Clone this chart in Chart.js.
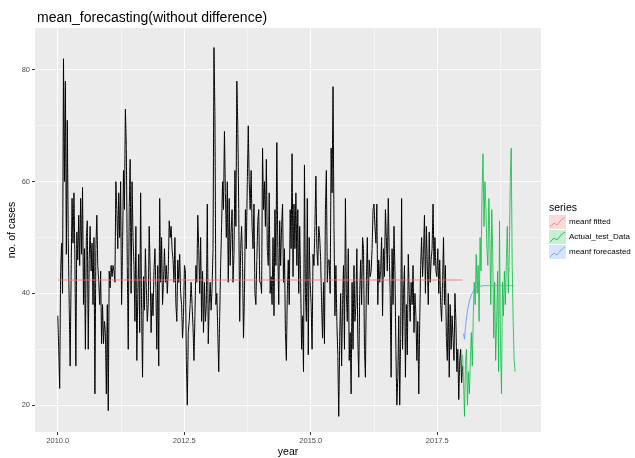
<!DOCTYPE html>
<html><head><meta charset="utf-8">
<script src="https://cdn.jsdelivr.net/npm/chart.js@4/dist/chart.umd.min.js"></script>
<style>html,body{margin:0;padding:0;background:#fff}#wrap{width:635px;height:458px}</style>
</head><body><div id="wrap"><canvas id="c" width="635" height="458"></canvas></div>
<script>
// ---------- data ----------
const chartTitle = "mean_forecasting(without difference)";
const xTitle = "year";
const yTitle = "no. of cases";
const legendTitle = "series";
const seriesNames = ["meanf fitted", "Actual_test_Data", "meanf forecasted"];

const trainStart = 2010.0, trainEnd = 2018.0;
const train2010 = [36,30,23,44,49,40,82,60,78,47,71,50,38,27,43,57,49,58,46,27,51,46,54,45,57,47,59,38,48,30,50,53,30,46,52,44,49,38,50,22,48,54,45,42,38,44,31,38,31,35,33,22,38,19,44,41,45,43,45,44,42,60,55,48,58,50,60,38,48,62,55];
const train2011 = [73,66,45,30,55,64,40,60,50,45,35,52,28,40,47,33,58,37,25,43,37,48,41,35,38,52,44,33,40,36,44,48,41,30,45,27,57,42,50,38,42,48,42,45,40,44,53,50,52,48,46,42,50,38,35,46,42,47,40,38,32,36,45,44,28,20,33,35,38,42];
const train2012 = [38,34,28,36,45,42,54,48,40,50,35,44,33,42,35,38,56,31,38,42,37,41,48,84,72,38,40,33,26,36,45,52,60,55,69,58,50,60,42,57,45,51,55,42,47,62,52,78,70,55,35,48,52,45,32,40,55,48,60,70,60,55,62,52,48,56,40,38,46,53,55,42];
const train2014 = [42,40,66,55,60,52,64,48,45,58,40,43,38,50,36,55,45,67,48,38,53,45,52,56,42,48,33,28,40,46,38,55,48,65,43,56,48,58,45,55,40,52,42,30,36,26,63,40,35,57,29,50,42,38,30,47,45,52,61,48,45,52,50,46,38,32,42,31,55,62,42,46];
const train2015 = [46,40,66,58,77,52,36,45,35,29,18,32,40,27,38,45,30,57,40,35,48,28,33,22,42,30,45,35,38,48,32,25,40,46,38,50,48,30,25,42,50,38,46,43,44,48,55,56,52,49,56,38,46,42,44,50,36,48,43,55,50,44,57,47,40,25,48,38,52,44,30,20];
const train2016 = [25,36,20,32,57,30,40,45,25,38,29,47,40,35,42,38,45,33,40,36,28,35,22,35,45,50,43,47,54,40,52,45,38,51,42,46,48,56,45,50,44,43,48,40,46,38,35,42,50,38,45,32,28,40,25,38,30,36,32,28,40,35,26,30,21,28,30,24,27];

const fittedMean = 42.4;

const testStart = 2018.0, weeksPerYear = 52;
const testValues = [29,24,18,28,30,20,26,22,28,33,27,36,42,38,47,40,45,35,50,44,58,65,52,60,55,48,45,57,50,38,55,47,32,42,28,35,44,26,53,30,22,42,36,44,38,46,52,40,47,60,66,45,35,28,26];

const forecastValues = [32.8,31.8,34.0,35.6,36.8,37.8,38.6,39.2,39.7,40.1,40.4,40.7,40.9,41.0,41.1,41.2,41.3,41.3,41.3,41.3,41.4,41.4,41.4,41.4,41.4,41.4,41.4,41.4,41.4,41.4,41.4,41.4,41.4,41.4,41.4,41.4,41.4,41.4,41.4,41.4,41.4,41.4,41.4,41.4,41.4,41.4,41.4,41.4,41.4,41.4,41.4,41.4,41.4];

const xTickValues = [2010, 2011.25, 2012.5, 2013.75, 2015, 2016.25, 2017.5, 2018.75];
const xTickLabels = ["2010.0", "", "2012.5", "", "2015.0", "", "2017.5", ""];
const yTickValues = [20, 30, 40, 50, 60, 70, 80];
const yTickLabels = ["20", "", "40", "", "60", "", "80"];

const colors = {train: "#000000", fitted: "#F8766D", test: "#00BA38", forecast: "#619CFF"};
const keyFills = ["#F9DCDA", "#C8EED3", "#D6E5FF"];

// ---------- build ----------
const trainValues = [].concat(train2010, train2011, train2012, train2014, train2015, train2016);
const trainStep = (trainEnd - trainStart) / (trainValues.length - 1);
const trainData = trainValues.map((v, i) => ({x: trainStart + i * trainStep, y: v}));
const fittedData = trainData.map(p => ({x: p.x, y: fittedMean}));
const testData = testValues.map((v, i) => ({x: testStart + i / weeksPerYear, y: v}));
const forecastData = forecastValues.map((v, i) => ({x: testStart + (i + 1) / weeksPerYear, y: v}));

const FONT = '"Liberation Sans", Arial, sans-serif';

const panelBg = {
  id: 'panelBg',
  beforeDraw(chart) {
    const {ctx, chartArea: a} = chart;
    ctx.save();
    ctx.fillStyle = '#EBEBEB';
    ctx.fillRect(a.left, a.top, a.right - a.left, a.bottom - a.top);
    ctx.restore();
  }
};

const decor = {
  id: 'decor',
  afterDraw(chart) {
    const ctx = chart.ctx;
    ctx.save();
    ctx.fillStyle = '#000';
    ctx.textBaseline = 'alphabetic';
    ctx.font = '14px ' + FONT;
    ctx.fillText(chartTitle, 37, 22);
    // legend
    ctx.font = '10.5px ' + FONT;
    ctx.textBaseline = 'middle';
    ctx.fillText(legendTitle, 549, 208);
    const lineCols = [colors.fitted, colors.test, colors.forecast];
    ctx.font = '8px ' + FONT;
    for (let i = 0; i < 3; i++) {
      const kx = 549, ky = 215 + i * 15, kw = 17, kh = 14;
      ctx.fillStyle = keyFills[i];
      ctx.fillRect(kx, ky, kw, kh);
      ctx.strokeStyle = lineCols[i];
      ctx.lineWidth = 0.8;
      ctx.beginPath();
      ctx.moveTo(kx + 1, ky + kh - 2);
      ctx.lineTo(kx + 5, ky + kh - 6);
      ctx.lineTo(kx + 8, ky + kh - 4);
      ctx.lineTo(kx + 12, ky + kh - 9);
      ctx.lineTo(kx + 16, ky + 2);
      ctx.stroke();
      ctx.fillStyle = '#000';
      ctx.fillText(seriesNames[i], 569, ky + kh / 2);
    }
    ctx.restore();
  }
};

const isMajorX = (v) => xTickLabels[xTickValues.indexOf(v)] !== "";
const isMajorY = (v) => yTickLabels[yTickValues.indexOf(v)] !== "";

new Chart(document.getElementById('c'), {
  type: 'line',
  data: {
    datasets: [
      {label: 'train', data: trainData, borderColor: colors.train, borderWidth: 1, pointRadius: 0, tension: 0.00001, order: 4},
      {label: seriesNames[0], data: fittedData, borderColor: colors.fitted, borderWidth: 0.9, pointRadius: 0, tension: 0, order: 3},
      {label: seriesNames[1], data: testData, borderColor: colors.test, borderWidth: 0.8, pointRadius: 0, tension: 0.00001, order: 2},
      {label: seriesNames[2], data: forecastData, borderColor: colors.forecast, borderWidth: 0.9, pointRadius: 0, tension: 0, order: 1}
    ]
  },
  options: {
    responsive: false,
    animation: false,
    devicePixelRatio: 1,
    parsing: false,
    layout: {padding: {top: 28, right: 94, bottom: 0, left: 0}},
    plugins: {legend: {display: false}, tooltip: {enabled: false}, title: {display: false}},
    scales: {
      x: {
        type: 'linear', min: 2009.55, max: 2019.55,
        afterBuildTicks: s => { s.ticks = xTickValues.map(v => ({value: v})); },
        afterFit: s => { s.height = 26; },
        ticks: {autoSkip: false, maxRotation: 0, padding: 1, color: '#4D4D4D', font: {family: FONT, size: 7.5},
          callback: (v) => xTickLabels[xTickValues.indexOf(v)] || ''},
        grid: {color: '#FFFFFF', lineWidth: c => (c.tick && isMajorX(c.tick.value)) ? 1 : 0.5,
          tickColor: c => (c.tick && isMajorX(c.tick.value)) ? '#333333' : 'rgba(0,0,0,0)', tickLength: 3},
        border: {display: false},
        title: {display: true, text: xTitle, color: '#000', font: {family: FONT, size: 10.5}, padding: {top: 0, bottom: 0}}
      },
      y: {
        type: 'linear', min: 15.2, max: 87.5,
        afterBuildTicks: s => { s.ticks = yTickValues.map(v => ({value: v})); },
        afterFit: s => { s.width = 35; },
        ticks: {autoSkip: false, padding: 2, color: '#4D4D4D', font: {family: FONT, size: 7.5},
          callback: (v) => yTickLabels[yTickValues.indexOf(v)] || ''},
        grid: {color: '#FFFFFF', lineWidth: c => (c.tick && isMajorY(c.tick.value)) ? 1 : 0.5,
          tickColor: c => (c.tick && isMajorY(c.tick.value)) ? '#333333' : 'rgba(0,0,0,0)', tickLength: 3},
        border: {display: false},
        title: {display: true, text: yTitle, color: '#000', font: {family: FONT, size: 10.5}, padding: {top: 6, bottom: 0}}
      }
    }
  },
  plugins: [panelBg, decor]
});
</script></body></html>
